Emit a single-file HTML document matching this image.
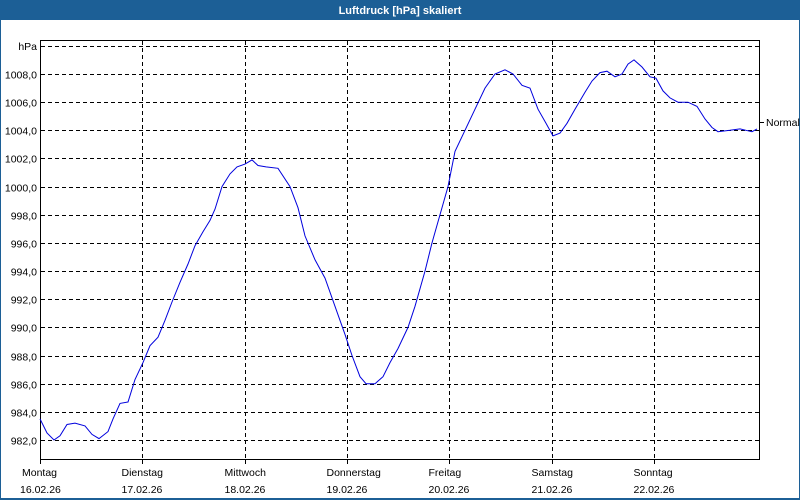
<!DOCTYPE html>
<html><head><meta charset="utf-8"><style>
html,body{margin:0;padding:0;background:#fff}
svg{display:block}
text{font-family:"Liberation Sans","DejaVu Sans",sans-serif;font-size:10.5px;fill:#000}
</style></head><body>
<svg id="s" width="800" height="500" xmlns="http://www.w3.org/2000/svg">
<rect x="0" y="0" width="800" height="500" fill="#fff"/>
<rect x="0" y="0" width="800" height="20" fill="#1c5f96"/>
<rect x="0" y="0" width="1" height="500" fill="#1c5f96"/>
<rect x="799" y="0" width="1" height="500" fill="#1c5f96"/>
<rect x="0" y="498" width="800" height="2" fill="#1c5f96"/>
<text x="400" y="14" text-anchor="middle" style="font-weight:bold;fill:#fff;font-size:11px">Luftdruck [hPa] skaliert</text>
<g id="grid" stroke="#000" stroke-dasharray="4,3" stroke-width="1"></g>
<rect x="40.5" y="40.5" width="719" height="419" fill="none" stroke="#000" stroke-width="1"/>
<g id="lab"></g>
<line x1="760" y1="122.5" x2="764" y2="122.5" stroke="#000"/>
<text x="766" y="126">Normal</text>
<polyline id="p" fill="none" stroke="#0000dd" stroke-width="1"/>
</svg>
<script>
var ns="http://www.w3.org/2000/svg";
function Y(v){return 74+(1008-v)*14.077;}
var g=document.getElementById('grid'),lab=document.getElementById('lab');
function el(t,a,p,txt){var e=document.createElementNS(ns,t);for(var k in a)e.setAttribute(k,a[k]);if(txt)e.textContent=txt;p.appendChild(e);return e;}
el('line',{x1:41,x2:759,y1:46.5,y2:46.5},g);
el('text',{x:37,y:50,'text-anchor':'end'},lab,'hPa');
for(var v=982;v<=1008;v+=2){var y=Math.round(Y(v))+0.5;el('line',{x1:41,x2:759,y1:y,y2:y},g);
el('text',{x:37,y:y+4,'text-anchor':'end'},lab,v.toFixed(1).replace('.',','));}
var days=[["Montag","16.02.26"],["Dienstag","17.02.26"],["Mittwoch","18.02.26"],["Donnerstag","19.02.26"],["Freitag","20.02.26"],["Samstag","21.02.26"],["Sonntag","22.02.26"]];
for(var i=0;i<7;i++){var x=Math.round(40+i*102.3)+0.5;
if(i>0)el('line',{x1:x,x2:x,y1:41,y2:459},g);
el('line',{x1:x,x2:x,y1:460,y2:464},lab).setAttribute('stroke','#000');
el('text',{x:i==0?22:x-21,y:476},lab,days[i][0]);
el('text',{x:i==0?20:x-21,y:493},lab,days[i][1]);}
var d=[[40,983.5],[47,982.5],[54,982],[60,982.3],[67,983.1],[75,983.2],[85,983],[92,982.4],[99,982.1],[108,982.6],[113,983.5],[120,984.6],[128,984.7],[135,986.3],[143,987.5],[150,988.7],[158,989.3],[165,990.5],[172,991.8],[180,993.2],[188,994.5],[195,995.8],[203,996.8],[210,997.6],[215,998.4],[222,1000],[230,1000.9],[237,1001.4],[245,1001.6],[252,1001.9],[258,1001.5],[266,1001.4],[278,1001.3],[290,1000],[298,998.5],[305,996.5],[315,994.8],[325,993.5],[335,991.5],[345,989.5],[352,988],[360,986.5],[366,986],[375,986],[383,986.5],[390,987.5],[398,988.5],[408,990],[415,991.5],[425,994],[432,996],[440,998],[448,1000],[455,1002.5],[465,1004],[475,1005.5],[485,1007],[495,1008],[505,1008.3],[513,1008],[522,1007.2],[530,1007],[538,1005.5],[546,1004.5],[553,1003.6],[560,1003.8],[567,1004.5],[575,1005.5],[585,1006.7],[592,1007.5],[600,1008.1],[607,1008.2],[615,1007.8],[622,1008],[628,1008.7],[634,1009],[642,1008.5],[650,1007.8],[656,1007.7],[663,1006.8],[670,1006.3],[678,1006],[688,1006],[697,1005.7],[705,1004.8],[712,1004.2],[718,1003.9],[730,1004],[740,1004.1],[746,1004.0],[752,1003.9],[757,1004.1]];
document.getElementById('p').setAttribute('points',d.map(function(p){return p[0]+','+Y(p[1]).toFixed(1);}).join(' '));
</script>
</body></html>
